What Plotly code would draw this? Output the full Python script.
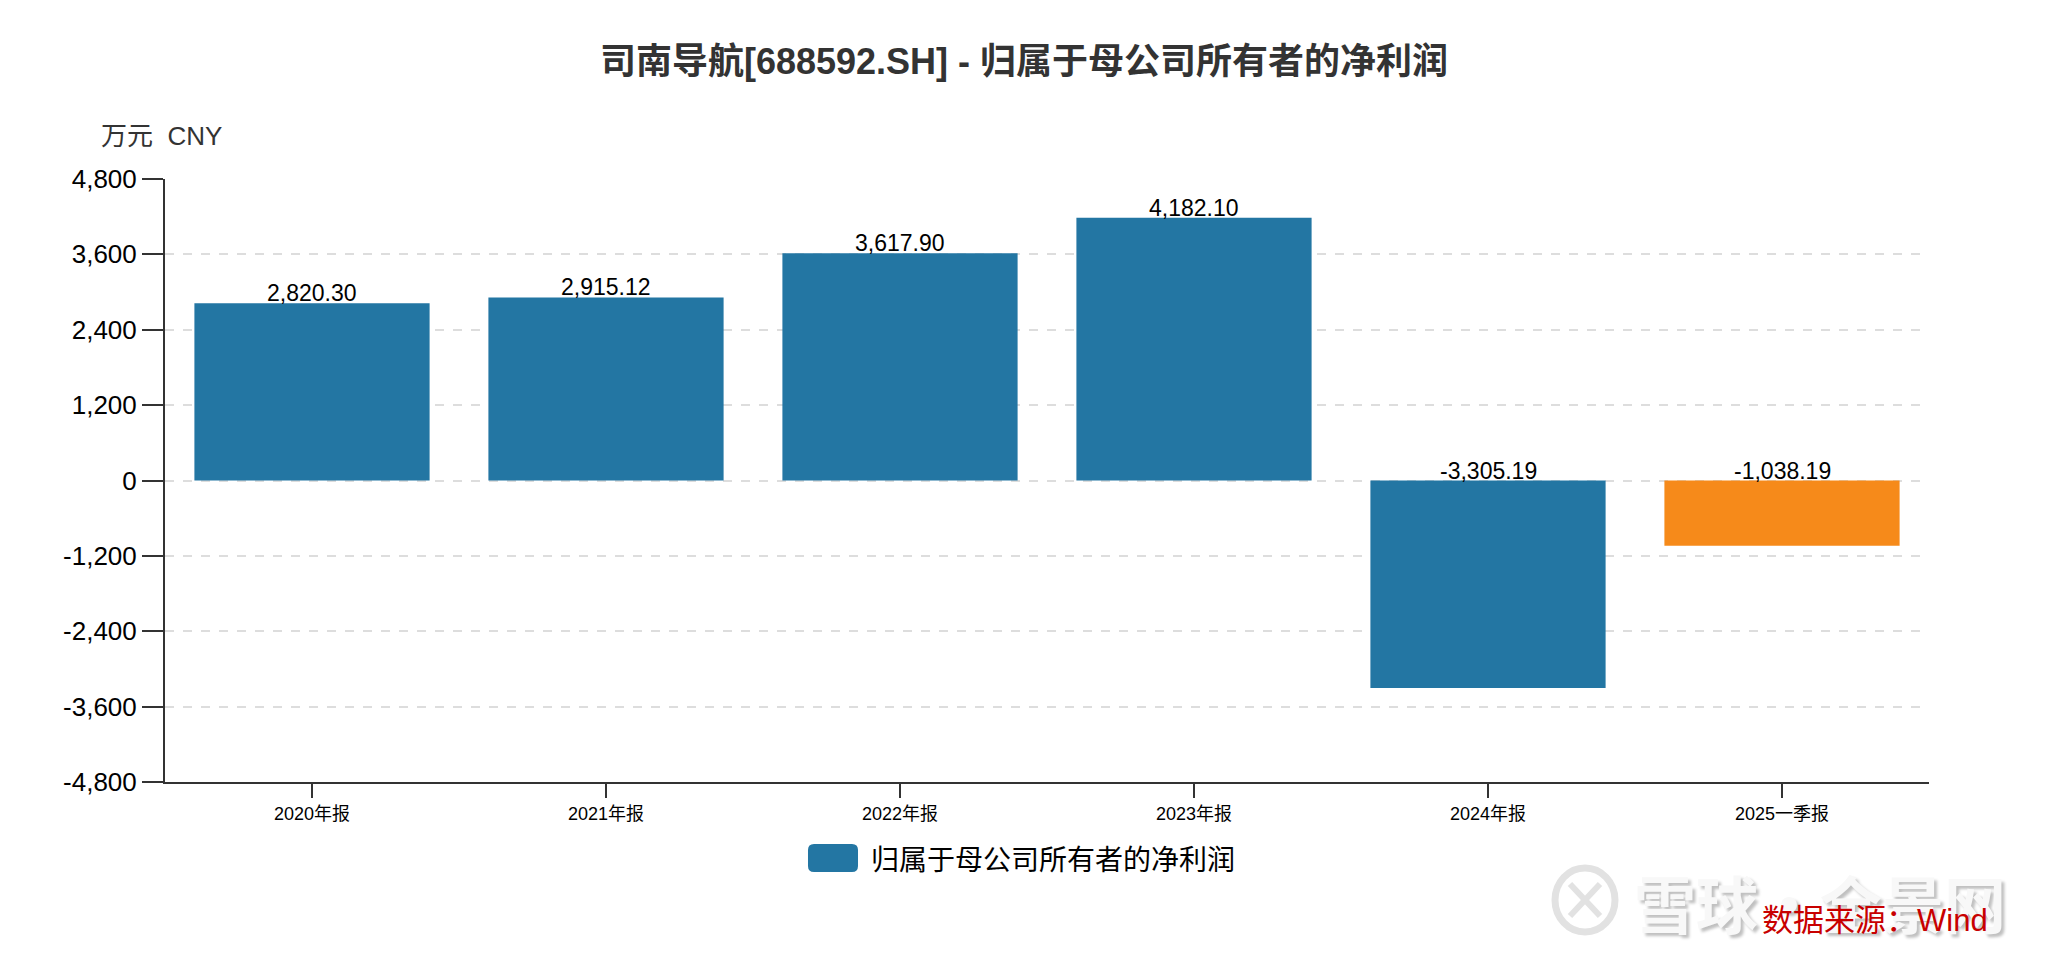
import plotly.graph_objects as go

categories = ["2020年报", "2021年报", "2022年报", "2023年报", "2024年报", "2025一季报"]
values = [2820.30, 2915.12, 3617.90, 4182.10, -3305.19, -1038.19]
ytick_vals = [-4800, -3600, -2400, -1200, 0, 1200, 2400, 3600, 4800]
ytick_text = ["-4,800", "-3,600", "-2,400", "-1,200", "0", "1,200", "2,400", "3,600", "4,800"]
series_name = "归属于母公司所有者的净利润"
title_text = "司南导航[688592.SH] - 归属于母公司所有者的净利润"
unit_text = "万元  CNY"
source_text = "数据来源：Wind"
watermark_text = "雪球·全景网"

BLUE = "#2376a3"
ORANGE = "#f68a1a"
FONT = "Liberation Sans, Arial, Noto Sans CJK SC, sans-serif"

W, H = 2048, 968
L, R, T, B = 165, 119, 179, 186
PW, PH = W - L - R, H - T - B

def px_x(px):
    return (px - L) / PW

def px_y(py):
    return (H - B - py) / PH

colors = [ORANGE if "季" in c else BLUE for c in categories]

fig = go.Figure()
fig.add_trace(go.Bar(
    x=categories, y=values, marker=dict(color=colors, line=dict(width=0)),
    name=series_name, showlegend=False,
))

annotations = []
for c, v in zip(categories, values):
    annotations.append(dict(
        x=c, y=max(v, 0), xref="x", yref="y", text=f"{v:,.2f}",
        showarrow=False, yanchor="bottom", yshift=-5,
        font=dict(family=FONT, size=23, color="#000"),
    ))

# unit label
annotations.append(dict(
    x=px_x(99), y=px_y(136), xref="paper", yref="paper", text=unit_text,
    showarrow=False, xanchor="left", yanchor="middle",
    font=dict(family=FONT, size=26, color="#333"),
))
# legend text
annotations.append(dict(
    x=px_x(869), y=px_y(858), xref="paper", yref="paper", text=series_name,
    showarrow=False, xanchor="left", yanchor="middle",
    font=dict(family="Noto Sans CJK SC, sans-serif", size=28, color="#000"),
))
# watermark
annotations.append(dict(
    x=px_x(1632), y=px_y(902), xref="paper", yref="paper", text=f"<b>{watermark_text}</b>",
    showarrow=False, xanchor="left", yanchor="middle",
    font=dict(family="Noto Sans CJK SC, sans-serif", size=62, color="#f8f8f8",
              shadow="3px 3px 3px #c0c0c0"),
))
# source
annotations.append(dict(
    x=px_x(1990), y=px_y(920), xref="paper", yref="paper", text=source_text,
    showarrow=False, xanchor="right", yanchor="middle",
    font=dict(family=FONT, size=31, color="#c80000"),
))

# legend box with rounded corners (pixel -> paper)
x0, x1, y0, y1, r = 808, 858, 844, 872, 6
def P(px, py):
    return f"{px_x(px):.5f},{px_y(py):.5f}"
path = (f"M{P(x0 + r, y0)} L{P(x1 - r, y0)} Q{P(x1, y0)} {P(x1, y0 + r)} "
        f"L{P(x1, y1 - r)} Q{P(x1, y1)} {P(x1 - r, y1)} L{P(x0 + r, y1)} "
        f"Q{P(x0, y1)} {P(x0, y1 - r)} L{P(x0, y0 + r)} Q{P(x0, y0)} {P(x0 + r, y0)} Z")
shapes = [
    dict(type="path", xref="paper", yref="paper", path=path,
         fillcolor=BLUE, line=dict(width=0)),
    # watermark logo ring
    dict(type="circle", xref="paper", yref="paper",
         x0=px_x(1555), x1=px_x(1615), y0=px_y(868), y1=px_y(932),
         line=dict(color="#e2e2e2", width=7), fillcolor="rgba(0,0,0,0)", layer="above"),
    dict(type="line", xref="paper", yref="paper",
         x0=px_x(1570), x1=px_x(1600), y0=px_y(884), y1=px_y(916),
         line=dict(color="#e2e2e2", width=6), layer="above"),
    dict(type="line", xref="paper", yref="paper",
         x0=px_x(1600), x1=px_x(1570), y0=px_y(884), y1=px_y(916),
         line=dict(color="#e2e2e2", width=6), layer="above"),
]

fig.update_layout(
    width=W, height=H,
    margin=dict(l=L, r=R, t=T, b=B, autoexpand=False),
    paper_bgcolor="white", plot_bgcolor="white",
    bargap=0.2,
    title=dict(text=f"<b>{title_text}</b>", x=0.5, xref="container", xanchor="center",
               y=1 - 61 / H, yref="container", yanchor="middle",
               font=dict(family=FONT, size=36, color="#333")),
    xaxis=dict(
        showline=True, linecolor="#333", linewidth=2,
        ticks="outside", ticklen=14, tickwidth=2, tickcolor="#333",
        tickfont=dict(family=FONT, size=18, color="#000"),
        showgrid=False, zeroline=False, fixedrange=True,
    ),
    yaxis=dict(
        range=[-4800, 4800], tickvals=ytick_vals, ticktext=ytick_text,
        showline=True, linecolor="#333", linewidth=2,
        ticks="outside", ticklen=21, tickwidth=2, tickcolor="#333",
        tickfont=dict(family=FONT, size=26, color="#000"),
        showgrid=True, gridcolor="#dddddd", griddash="dash", gridwidth=2,
        zeroline=False, fixedrange=True,
    ),
    annotations=annotations,
    shapes=shapes,
    showlegend=False,
)

fig.write_html("out.html", config={"displayModeBar": False},
               post_script="document.body.style.margin='0';document.body.style.overflow='hidden';")
